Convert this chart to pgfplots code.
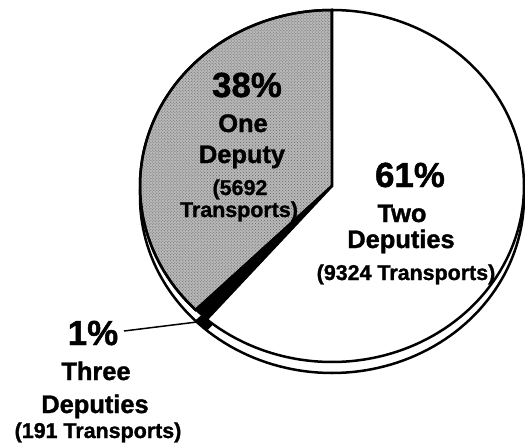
\documentclass[border=0pt]{standalone}
\usepackage{pgfplots}
\pgfplotsset{compat=1.18}
\usepackage{pgfplotstable}
\usepackage{fontspec}
\setmainfont{Liberation Sans}
\newfontfamily\lab{Liberation Sans Bold}[FakeBold=1.3]
\usetikzlibrary{patterns}

\pgfplotstableread{
category count
Two 9324
Three 191
One 5692
}\piedata

\begin{document}%
\begin{tikzpicture}[every node/.style={inner sep=0pt, outer sep=0pt}]
\pgfplotstablegetelem{0}{count}\of\piedata \edef\cTwo{\pgfplotsretval}
\pgfplotstablegetelem{1}{count}\of\piedata \edef\cThree{\pgfplotsretval}
\pgfplotstablegetelem{2}{count}\of\piedata \edef\cOne{\pgfplotsretval}
\pgfmathsetmacro{\tot}{\cTwo+\cThree+\cOne}
\pgfmathsetmacro{\aA}{90-360*(\cTwo/\tot)}
\pgfmathsetmacro{\aB}{\aA-360*(\cThree/\tot)}
\pgfmathsetmacro{\aC}{\aB-360*(\cOne/\tot)}
\def\cx{332}\def\cy{186}\def\rx{192}\def\ry{176}\def\dd{11}
\begin{axis}[hide axis, scale only axis, width=525bp, height=443bp,
  xmin=0, xmax=525, ymin=0, ymax=443, y dir=reverse, clip=false]
% side (depth)
\addplot[draw=black, line width=2.5bp, fill=white, domain=0:360, samples=181]
  ({\cx+\rx*cos(x)},{\cy+\dd-\ry*sin(x)}) -- cycle;
\addplot[draw=black, line width=1bp, fill=black, domain=\aB:\aA, samples=20]
  ({\cx+\rx*cos(x)},{\cy+\dd-\ry*sin(x)}) -- (axis cs:\cx,\cy+\dd) -- cycle;
% top face
\addplot[draw=black, line width=2.5bp, fill=black!28,
  postaction={pattern=crosshatch dots, pattern color=black!60},
  domain=\aC:\aB, samples=120]
  ({\cx+\rx*cos(x)},{\cy-\ry*sin(x)}) -- (axis cs:\cx,\cy) -- cycle;
\addplot[draw=black, line width=2.5bp, fill=white, domain=\aA:90, samples=180]
  ({\cx+\rx*cos(x)},{\cy-\ry*sin(x)}) -- (axis cs:\cx,\cy) -- cycle;
\addplot[draw=black, line width=1.5bp, fill=black, domain=\aB:\aA, samples=20]
  ({\cx+\rx*cos(x)},{\cy-\ry*sin(x)}) -- (axis cs:\cx,\cy) -- cycle;
% leader line
\addplot[black, line width=1.5bp] coordinates {(124,331) (197,322)};
% labels
\node[anchor=base, font=\fontsize{35}{35}\lab] at (axis cs:247,97) {38\%};
\node[anchor=base, font=\fontsize{25.5}{25.5}\lab] at (axis cs:243,132) {One};
\node[anchor=base, font=\fontsize{25.5}{25.5}\lab] at (axis cs:242,163) {Deputy};
\node[anchor=base, font=\fontsize{21.5}{21.5}\lab] at (axis cs:240,195) {(5692};
\node[anchor=base, font=\fontsize{21.5}{21.5}\lab] at (axis cs:239,217) {Transports)};
\node[anchor=base, font=\fontsize{35}{35}\lab] at (axis cs:410,187) {61\%};
\node[anchor=base, font=\fontsize{25.5}{25.5}\lab] at (axis cs:402,222) {Two};
\node[anchor=base, font=\fontsize{25.5}{25.5}\lab] at (axis cs:401,248) {Deputies};
\node[anchor=base, font=\fontsize{21.5}{21.5}\lab] at (axis cs:406,280) {(9324 Transports)};
\node[anchor=base, font=\fontsize{35}{35}\lab] at (axis cs:93,345) {1\%};
\node[anchor=base, font=\fontsize{25.5}{25.5}\lab] at (axis cs:96,380) {Three};
\node[anchor=base, font=\fontsize{25.5}{25.5}\lab] at (axis cs:95,413) {Deputies};
\node[anchor=base, font=\fontsize{21.5}{21.5}\lab] at (axis cs:98,438) {(191 Transports)};
\end{axis}
\pgfresetboundingbox
\useasboundingbox (current axis.south west) rectangle (current axis.north east);
\end{tikzpicture}%
\end{document}
